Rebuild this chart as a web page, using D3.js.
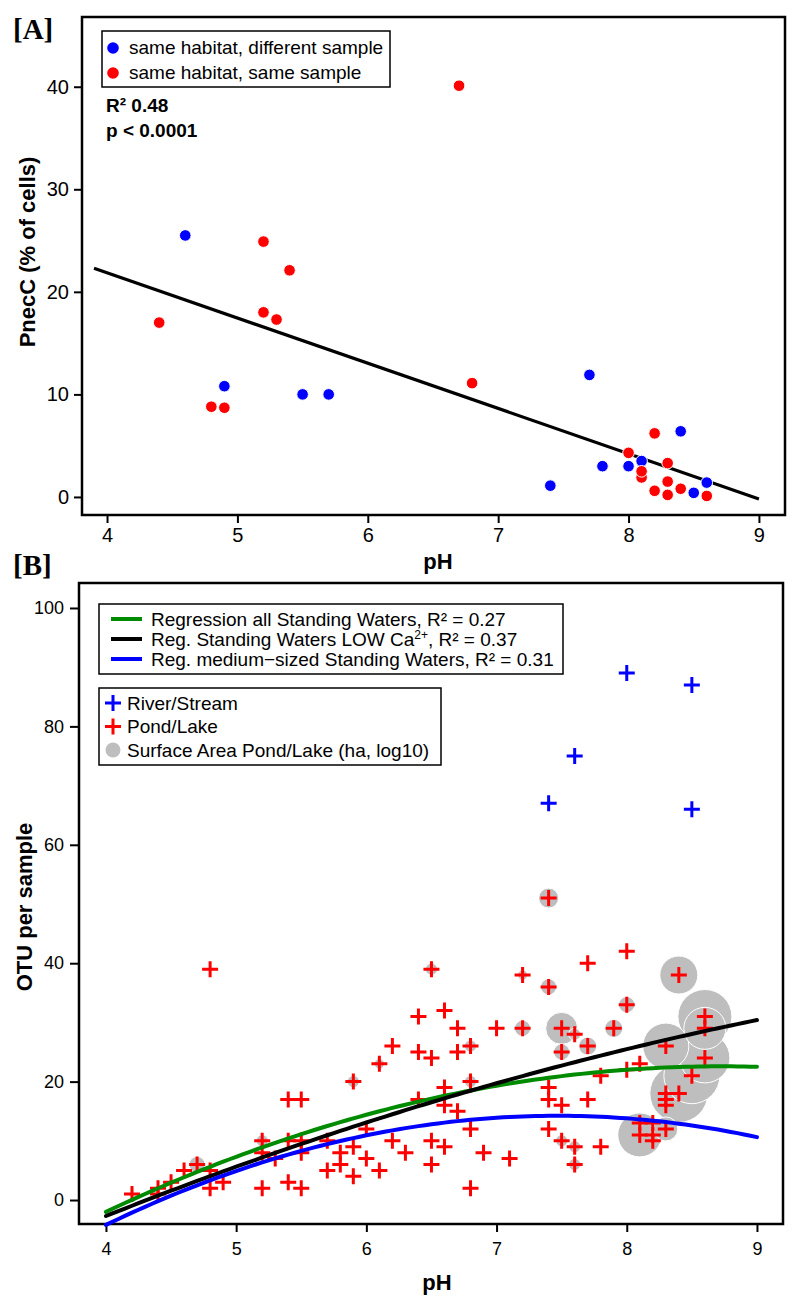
<!DOCTYPE html>
<html><head><meta charset="utf-8">
<script src="https://cdn.jsdelivr.net/npm/d3@7"></script>
<style>
body{margin:0;background:#fff}
svg text{font-family:"Liberation Sans",Arial,Helvetica,sans-serif;fill:#000}
</style>
</head><body>
<svg id="chart" width="800" height="1310"></svg>
<script>
// ---------------- DATA: panel A ----------------
const diffSample_pH  = [4.6, 4.9, 5.5, 5.7, 7.4, 7.7, 7.8, 8.0, 8.1, 8.4, 8.5, 8.6];
const diffSample_val = [25.5, 10.8, 10.0, 10.0, 1.1, 11.9, 3.0, 3.0, 3.5, 6.4, 0.4, 1.4];
const sameSample_pH  = [4.4, 4.8, 4.9, 5.2, 5.2, 5.3, 5.4, 6.7, 6.8, 8.0, 8.1, 8.1, 8.2, 8.2, 8.3, 8.3, 8.3, 8.4, 8.6];
const sameSample_val = [17.0, 8.8, 8.7, 24.9, 18.0, 17.3, 22.1, 40.1, 11.1, 4.3, 1.9, 2.5, 6.2, 0.6, 3.3, 1.5, 0.2, 0.8, 0.1];
const fitA_range = [3.9, 9.0];          // pH range of regression line
const fitA_coef  = [39.5, -4.41];        // intercept, slope
const xTicksA = [4, 5, 6, 7, 8, 9];
const yTicksA = [0, 10, 20, 30, 40];
const legendA = ["same habitat, different sample", "same habitat, same sample"];

// ---------------- DATA: panel B ----------------
const river_pH  = [7.4, 7.6, 8.0, 8.5, 8.5];
const river_otu = [67, 75, 89, 87, 66];
const pond_pH  = [4.2,4.4,4.4,4.5,4.6,4.7,4.8,4.8,4.8,4.9,
                  5.2,5.2,5.2,5.3,5.4,5.5,5.4,5.4,5.5,5.5,5.5,5.7,5.7,5.8,5.8,5.9,5.9,5.9,
                  6.0,6.0,6.1,6.1,6.2,6.2,6.3,6.4,6.4,6.4,6.5,6.5,6.5,6.5,6.6,6.6,6.6,6.6,
                  6.7,6.7,6.7,6.8,6.8,6.8,6.8,6.9,7.0,7.1,7.2,7.2,
                  7.4,7.4,7.4,7.4,7.4,7.5,7.5,7.5,7.5,7.6,7.6,7.6,7.7,7.7,7.7,7.8,7.8,7.9,
                  8.0,8.0,8.0,8.1,8.1,8.1,8.2,8.2,8.2,8.3,8.3,8.3,8.3,8.3,8.4,8.4,8.5,8.6,8.6,8.6];
const pond_otu = [1,1,2,3,5,6,2,5,39,3,
                  10,8,2,7,17,17,10,3,2,10,8,10,5,8,6,9,4,20,
                  12,7,5,23,26,10,8,31,25,17,39,24,10,6,32,19,16,9,
                  29,25,15,26,20,12,2,8,29,7,38,29,
                  51,36,19,17,12,29,25,16,10,28,9,6,40,26,17,21,9,29,
                  42,33,22,23,13,11,13,11,10,26,18,17,16,12,38,18,21,31,29,24];
const area_pH  = [4.7,5.2,5.9,6.1,6.5,6.8,6.8,7.2,7.2,7.4,7.4,7.5,7.5,7.6,7.7,7.5,7.6,7.6,7.9,8.0,
                  8.1,8.3,8.3,8.4,8.5,8.6,8.6,8.6,8.4];
const area_otu = [6,10,20,23,39,26,20,38,29,51,36,29,25,28,26,10,9,6,29,33,
                  11,12,26,18,21,31,29,24,38];
const area_log10ha = [0.8,0.6,0.6,0.5,0.6,0.6,0.6,0.5,0.8,1.0,0.8,1.6,0.8,0.6,0.9,0.6,0.6,0.6,0.9,0.8,
                  2.2,1.2,2.3,2.9,2.8,2.7,2.1,2.5,1.9];
// quadratic fits: otu = a + b*(pH-4) + c*(pH-4)^2
const fitB_names  = ["Regression all Standing Waters", "Reg. Standing Waters LOW Ca", "Reg. medium\u2212sized Standing Waters"];
const fitB_r2     = ["0.27", "0.37", "0.31"];
const fitB_coef   = [[-2.0, 10.4, -1.1], [-2.7, 8.75, -0.426], [-4.2, 10.63, -1.533]];
const fitB_colors = ["#008b00", "#000000", "#0000ff"];
const xTicksB = [4, 5, 6, 7, 8, 9];
const yTicksB = [0, 20, 40, 60, 80, 100];
const legendB2 = ["River/Stream", "Pond/Lake", "Surface Area Pond/Lake (ha, log10)"];

// ---------------- DRAW ----------------
const svg = d3.select("#chart");
const FONT = '"Liberation Sans",Arial,Helvetica,sans-serif';
const SERIF = '"Liberation Serif","Times New Roman",serif';
const BLUE = "#0000ff", RED = "#ff0000", GREY = "#bebebe";
const fmt = d3.format("d");

function styleAxis(g, fs) {
  g.select(".domain").remove();
  g.attr("font-size", fs).attr("font-family", FONT);
  g.selectAll(".tick line").attr("stroke", "#000").attr("stroke-width", 2);
  g.selectAll(".tick text").attr("fill", "#000");
}

// ===== Panel A =====
const xA = d3.scaleLinear().domain([3.808, 9.2]).range([82, 785]);
const yA = d3.scaleLinear().domain([-1.76, 46.8]).range([515, 17]);

svg.append("text").attr("x", 13).attr("y", 39)
  .attr("font-weight", "bold").attr("font-size", 29).style("font-family", SERIF).text("[A]");

svg.append("g").attr("transform", `translate(0,${yA.range()[0]})`)
  .call(d3.axisBottom(xA).tickValues(xTicksA).tickFormat(fmt).tickSize(8).tickPadding(5))
  .call(g => styleAxis(g, 20));
svg.append("g").attr("transform", `translate(${xA.range()[0]},0)`)
  .call(d3.axisLeft(yA).tickValues(yTicksA).tickFormat(fmt).tickSize(8).tickPadding(5))
  .call(g => styleAxis(g, 20));

svg.append("rect").attr("x", xA.range()[0]).attr("y", yA.range()[1])
  .attr("width", xA.range()[1] - xA.range()[0]).attr("height", yA.range()[0] - yA.range()[1])
  .attr("fill", "none").attr("stroke", "#000").attr("stroke-width", 2.5);

// regression line
svg.append("path")
  .datum(fitA_range.map(p => [p, fitA_coef[0] + fitA_coef[1] * p]))
  .attr("d", d3.line().x(d => xA(d[0])).y(d => yA(d[1])))
  .attr("stroke", "#000").attr("stroke-width", 3.2).attr("fill", "none");

// points
svg.append("g").selectAll("circle").data(diffSample_pH.map((p, i) => [p, diffSample_val[i]]))
  .join("circle").attr("cx", d => xA(d[0])).attr("cy", d => yA(d[1])).attr("r", 5.8)
  .attr("fill", BLUE).attr("stroke", "#fff").attr("stroke-width", 1);
svg.append("g").selectAll("circle").data(sameSample_pH.map((p, i) => [p, sameSample_val[i]]))
  .join("circle").attr("cx", d => xA(d[0])).attr("cy", d => yA(d[1])).attr("r", 5.8)
  .attr("fill", RED).attr("stroke", "#fff").attr("stroke-width", 1);

// legend A
svg.append("rect").attr("x", 102).attr("y", 31).attr("width", 288).attr("height", 56)
  .attr("fill", "#fff").attr("stroke", "#000").attr("stroke-width", 1.5);
legendA.forEach((t, i) => {
  svg.append("circle").attr("cx", 113).attr("cy", 48 + i * 25).attr("r", 5.8).attr("fill", i ? RED : BLUE);
  svg.append("text").attr("x", 129).attr("y", 54 + i * 25).attr("font-size", 19).text(t);
});
svg.append("text").attr("x", 106).attr("y", 112).attr("font-size", 19).attr("font-weight", "bold").text("R\u00B2 0.48");
svg.append("text").attr("x", 106).attr("y", 137).attr("font-size", 19).attr("font-weight", "bold").text("p < 0.0001");

// axis titles A
svg.append("text").attr("transform", "translate(35,252) rotate(-90)").attr("text-anchor", "middle")
  .attr("font-size", 22).attr("font-weight", "bold").text("PnecC (% of cells)");
svg.append("text").attr("x", 438).attr("y", 569).attr("text-anchor", "middle")
  .attr("font-size", 22).attr("font-weight", "bold").text("pH");

// ===== Panel B =====
const xB = d3.scaleLinear().domain([3.793, 9.2]).range([79, 783]);
const yB = d3.scaleLinear().domain([-4.05, 104.22]).range([1224, 583]);

svg.append("text").attr("x", 13).attr("y", 575).attr("font-weight", "bold")
  .attr("font-size", 29).style("font-family", SERIF).text("[B]");

svg.append("g").attr("transform", `translate(0,${yB.range()[0]})`)
  .call(d3.axisBottom(xB).tickValues(xTicksB).tickFormat(fmt).tickSize(8).tickPadding(10))
  .call(g => styleAxis(g, 18));
svg.append("g").attr("transform", `translate(${xB.range()[0]},0)`)
  .call(d3.axisLeft(yB).tickValues(yTicksB).tickFormat(fmt).tickSize(9).tickPadding(6))
  .call(g => styleAxis(g, 18));

svg.append("rect").attr("x", xB.range()[0]).attr("y", yB.range()[1])
  .attr("width", xB.range()[1] - xB.range()[0]).attr("height", yB.range()[0] - yB.range()[1])
  .attr("fill", "none").attr("stroke", "#000").attr("stroke-width", 2.5);

const rScale = d3.scaleLinear().domain([0, 3]).range([0, 30]);
const areaData = area_pH.map((p, i) => [p, area_otu[i], area_log10ha[i]])
  .sort((a, b) => b[2] - a[2]);
svg.append("g").selectAll("circle").data(areaData).join("circle")
  .attr("cx", d => xB(d[0])).attr("cy", d => yB(d[1])).attr("r", d => rScale(d[2]))
  .attr("fill", GREY).attr("stroke", "#fff").attr("stroke-width", 1);

const plusPath = "M-8,0H8M0,-8V8";
svg.append("g").selectAll("path").data(pond_pH.map((p, i) => [p, pond_otu[i]])).join("path")
  .attr("transform", d => `translate(${xB(d[0])},${yB(d[1])})`).attr("d", plusPath)
  .attr("stroke", RED).attr("stroke-width", 3).attr("fill", "none");
svg.append("g").selectAll("path").data(river_pH.map((p, i) => [p, river_otu[i]])).join("path")
  .attr("transform", d => `translate(${xB(d[0])},${yB(d[1])})`).attr("d", plusPath)
  .attr("stroke", BLUE).attr("stroke-width", 3).attr("fill", "none");

// regression curves
const phGrid = d3.range(4, 9.0001, 0.05);
fitB_coef.forEach((c, k) => {
  const pts = phGrid.map(p => { const t = p - 4; return [p, c[0] + c[1] * t + c[2] * t * t]; });
  svg.append("path").datum(pts)
    .attr("d", d3.line().x(d => xB(d[0])).y(d => yB(d[1])))
    .attr("stroke", fitB_colors[k]).attr("stroke-width", 4).attr("fill", "none")
    .attr("stroke-linecap", "round");
});

// legend B1
svg.append("rect").attr("x", 99).attr("y", 604).attr("width", 464).attr("height", 70)
  .attr("fill", "#fff").attr("stroke", "#000").attr("stroke-width", 1.5);
fitB_names.forEach((n, i) => {
  const y = 619 + i * 20;
  svg.append("line").attr("x1", 111).attr("x2", 142).attr("y1", y).attr("y2", y)
    .attr("stroke", fitB_colors[i]).attr("stroke-width", 4);
  const t = svg.append("text").attr("x", 151).attr("y", y + 6.5).attr("font-size", 19);
  if (i === 1) {
    t.append("tspan").text(n);
    t.append("tspan").attr("dy", -7).attr("font-size", 12).text("2+");
    t.append("tspan").attr("dy", 7).text(", R\u00B2 = " + fitB_r2[i]);
  } else {
    t.text(n + ", R\u00B2 = " + fitB_r2[i]);
  }
});

// legend B2
svg.append("rect").attr("x", 99).attr("y", 688).attr("width", 342).attr("height", 77)
  .attr("fill", "#fff").attr("stroke", "#000").attr("stroke-width", 1.5);
legendB2.forEach((n, i) => {
  const y = 703 + i * 23.5;
  if (i < 2) {
    svg.append("path").attr("transform", `translate(113,${y})`).attr("d", plusPath)
      .attr("stroke", i ? RED : BLUE).attr("stroke-width", 3).attr("fill", "none");
  } else {
    svg.append("circle").attr("cx", 113).attr("cy", y).attr("r", 7.5).attr("fill", GREY);
  }
  svg.append("text").attr("x", 127).attr("y", y + 6.5).attr("font-size", 19).text(n);
});

// axis titles B
svg.append("text").attr("transform", "translate(32,907) rotate(-90)").attr("text-anchor", "middle")
  .attr("font-size", 22).attr("font-weight", "bold").text("OTU per sample");
svg.append("text").attr("x", 437).attr("y", 1290).attr("text-anchor", "middle")
  .attr("font-size", 22).attr("font-weight", "bold").text("pH");
</script>
</body></html>
